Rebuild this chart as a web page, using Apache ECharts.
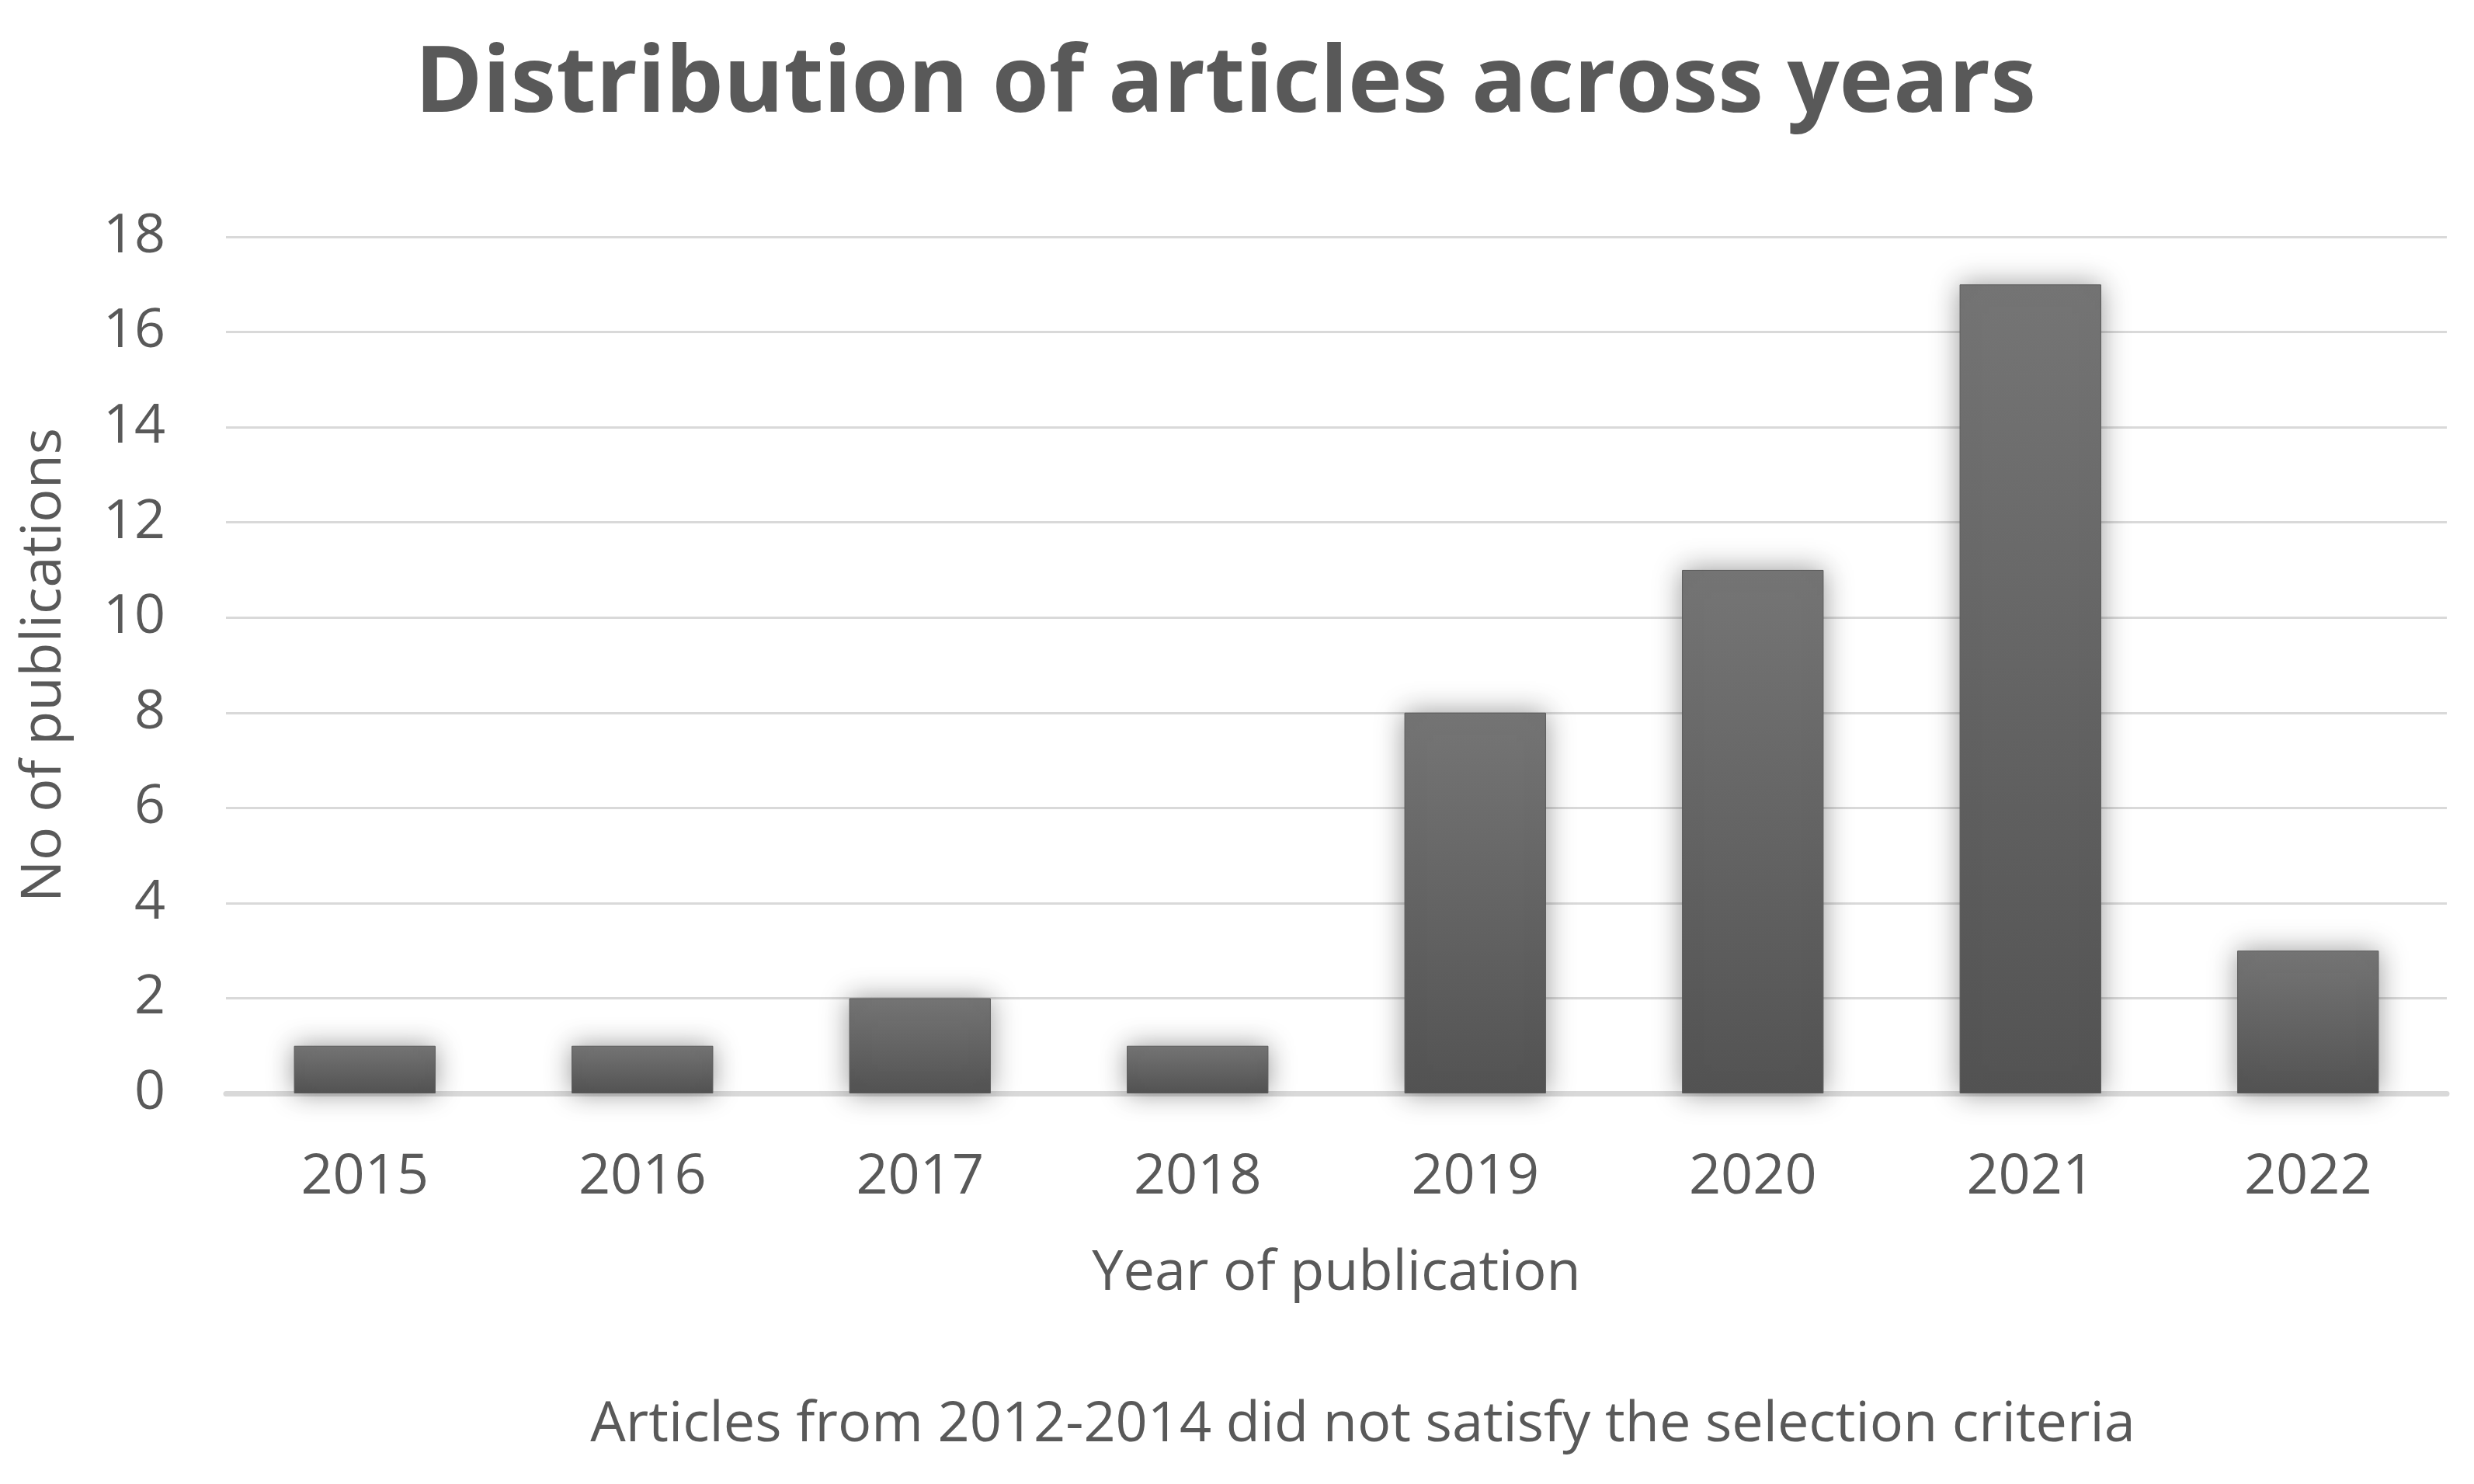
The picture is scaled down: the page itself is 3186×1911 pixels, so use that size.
<!DOCTYPE html>
<html>
<head>
<meta charset="utf-8">
<script src="https://cdn.jsdelivr.net/npm/echarts@6/dist/echarts.min.js"></script>
<style>html,body{margin:0;padding:0;background:#fff;}#chart{width:3186px;height:1911px;}</style>
</head>
<body>
<div id="chart"></div>
<script>
const categories = ['2015','2016','2017','2018','2019','2020','2021','2022'];
const publications = [1, 1, 2, 1, 8, 11, 17, 3];
const yTicks = [0, 2, 4, 6, 8, 10, 12, 14, 16, 18];
const titleText = 'Distribution of articles across years';
const footnoteText = 'Articles from 2012-2014 did not satisfy the selection criteria';
const xName = 'Year of publication';
const yName = 'No of publications';

const FONT = '"Open Sans", "Noto Sans", sans-serif';
const TXT = '#595959';
const chart = echarts.init(document.getElementById('chart'), null, {renderer: 'canvas'});
chart.setOption({
  backgroundColor: '#ffffff',
  animation: false,
  title: [
    {text: titleText, left: 1573, top: 46, textAlign: 'center',
     textStyle: {fontFamily: FONT, fontSize: 118, fontWeight: 'bold', color: TXT}},
    {text: footnoteText, left: 1750, top: 1794, textAlign: 'center',
     textStyle: {fontFamily: FONT, fontSize: 72, fontWeight: 'normal', color: TXT}}
  ],
  grid: {left: 291, right: 35, top: 305, bottom: 503, containLabel: false},
  xAxis: {
    type: 'category', data: categories,
    name: xName, nameLocation: 'middle', nameGap: 196,
    nameTextStyle: {fontFamily: FONT, fontSize: 72, color: TXT},
    axisLine: {show: true, lineStyle: {color: '#d9d9d9', width: 7}},
    axisTick: {show: false},
    axisLabel: {fontFamily: FONT, fontSize: 72, color: TXT, margin: 72}
  },
  yAxis: {
    type: 'value', min: yTicks[0], max: yTicks[yTicks.length - 1], interval: 2,
    name: yName, nameLocation: 'middle', nameGap: 198, nameRotate: 90,
    nameTextStyle: {fontFamily: FONT, fontSize: 72, color: TXT},
    axisLine: {show: false}, axisTick: {show: false},
    axisLabel: {fontFamily: FONT, fontSize: 70, color: TXT, margin: 78},
    splitLine: {lineStyle: {color: '#d9d9d9', width: 3}}
  },
  series: [{
    type: 'bar', data: publications, barCategoryGap: '49%',
    itemStyle: {
      color: {type: 'linear', x: 0, y: 0, x2: 0, y2: 1,
        colorStops: [{offset: 0, color: '#757575'}, {offset: 1, color: '#535353'}]},
      borderColor: '#5a5a5a', borderWidth: 1,
      shadowBlur: 34, shadowColor: 'rgba(0,0,0,0.4)', shadowOffsetX: 0, shadowOffsetY: 0
    }
  }]
});
</script>
</body>
</html>
